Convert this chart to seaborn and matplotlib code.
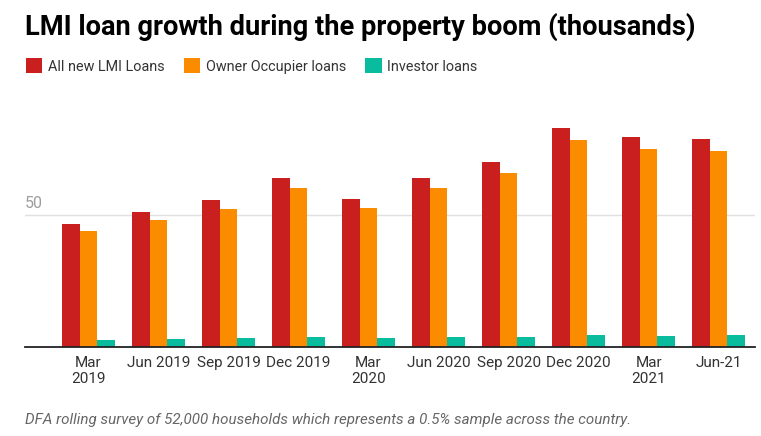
import matplotlib
matplotlib.use("Agg")
import matplotlib.pyplot as plt
import seaborn as sns
import pandas as pd
from matplotlib.patches import Patch

periods = ["Mar\n2019", "Jun 2019", "Sep 2019", "Dec 2019", "Mar\n2020",
           "Jun 2020", "Sep 2020", "Dec 2020", "Mar\n2021", "Jun-21"]
all_lmi = [46.6, 51.1, 55.6, 64.0, 56.0, 64.0, 70.0, 82.8, 79.4, 78.7]
owner_occ = [43.9, 48.1, 52.2, 60.2, 52.6, 60.2, 65.8, 78.3, 74.9, 74.2]
investor = [2.8, 3.1, 3.5, 3.9, 3.5, 3.9, 3.9, 4.6, 4.3, 4.6]
series_names = ["All new LMI Loans", "Owner Occupier loans", "Investor loans"]
colors = ["#C91F1F", "#FB8C00", "#0ABC9E"]

rows = []
for name, vals in zip(series_names, [all_lmi, owner_occ, investor]):
    for p, v in zip(periods, vals):
        rows.append({"period": p, "series": name, "value": v})
df = pd.DataFrame(rows)

sns.set_style("white")
plt.rcParams["font.family"] = ["Roboto", "DejaVu Sans"]

fig = plt.figure(figsize=(7.61, 4.36), dpi=100)
ax = fig.add_axes([25 / 761, 88.7 / 436, 730 / 761, 237.3 / 436])

sns.barplot(data=df, x="period", y="value", hue="series", order=periods,
            hue_order=series_names, palette=colors, width=0.76, gap=0,
            saturation=1, ax=ax, legend=False, edgecolor="none", linewidth=0)

ax.set_xlim(-0.907, 9.52)
ax.set_ylim(0, 89.6)
ax.set_yticks([50])
ax.set_yticklabels([])
ax.tick_params(axis="y", length=0)
ax.grid(axis="y", color="#e0e0e0", linewidth=1)
ax.set_axisbelow(True)
ax.text(0.0, 51.5, "50", transform=ax.get_yaxis_transform(), ha="left", va="bottom",
        fontsize=11.5, color="#9e9e9e")

for s in ["top", "right", "left"]:
    ax.spines[s].set_visible(False)
ax.spines["bottom"].set_color("#222222")
ax.spines["bottom"].set_linewidth(1.3)
ax.tick_params(axis="x", length=0, pad=6, labelsize=11, labelcolor="#333333")
ax.set_xlabel("")
ax.set_ylabel("")

fig.text(25 / 761, 1 - 27 / 436, "LMI loan growth during the property boom (thousands)",
         fontsize=19.6, fontweight="bold", color="#000000", ha="left", va="center")

handles = [Patch(facecolor=c, edgecolor="none") for c in colors]
fig.legend(handles, series_names, loc="center left", bbox_to_anchor=(20 / 761, 1 - 66 / 436),
           ncol=3, frameon=False, fontsize=10.4, handlelength=1.15, handleheight=1.15,
           handletextpad=0.4, columnspacing=1.3, labelcolor="#333333", borderaxespad=0)

fig.text(25 / 761, 1 - 420 / 436,
         "DFA rolling survey of 52,000 households which represents a 0.5% sample across the country.",
         fontsize=10.9, style="italic", color="#666666", ha="left", va="center")

fig.savefig("out.png", dpi=100)
